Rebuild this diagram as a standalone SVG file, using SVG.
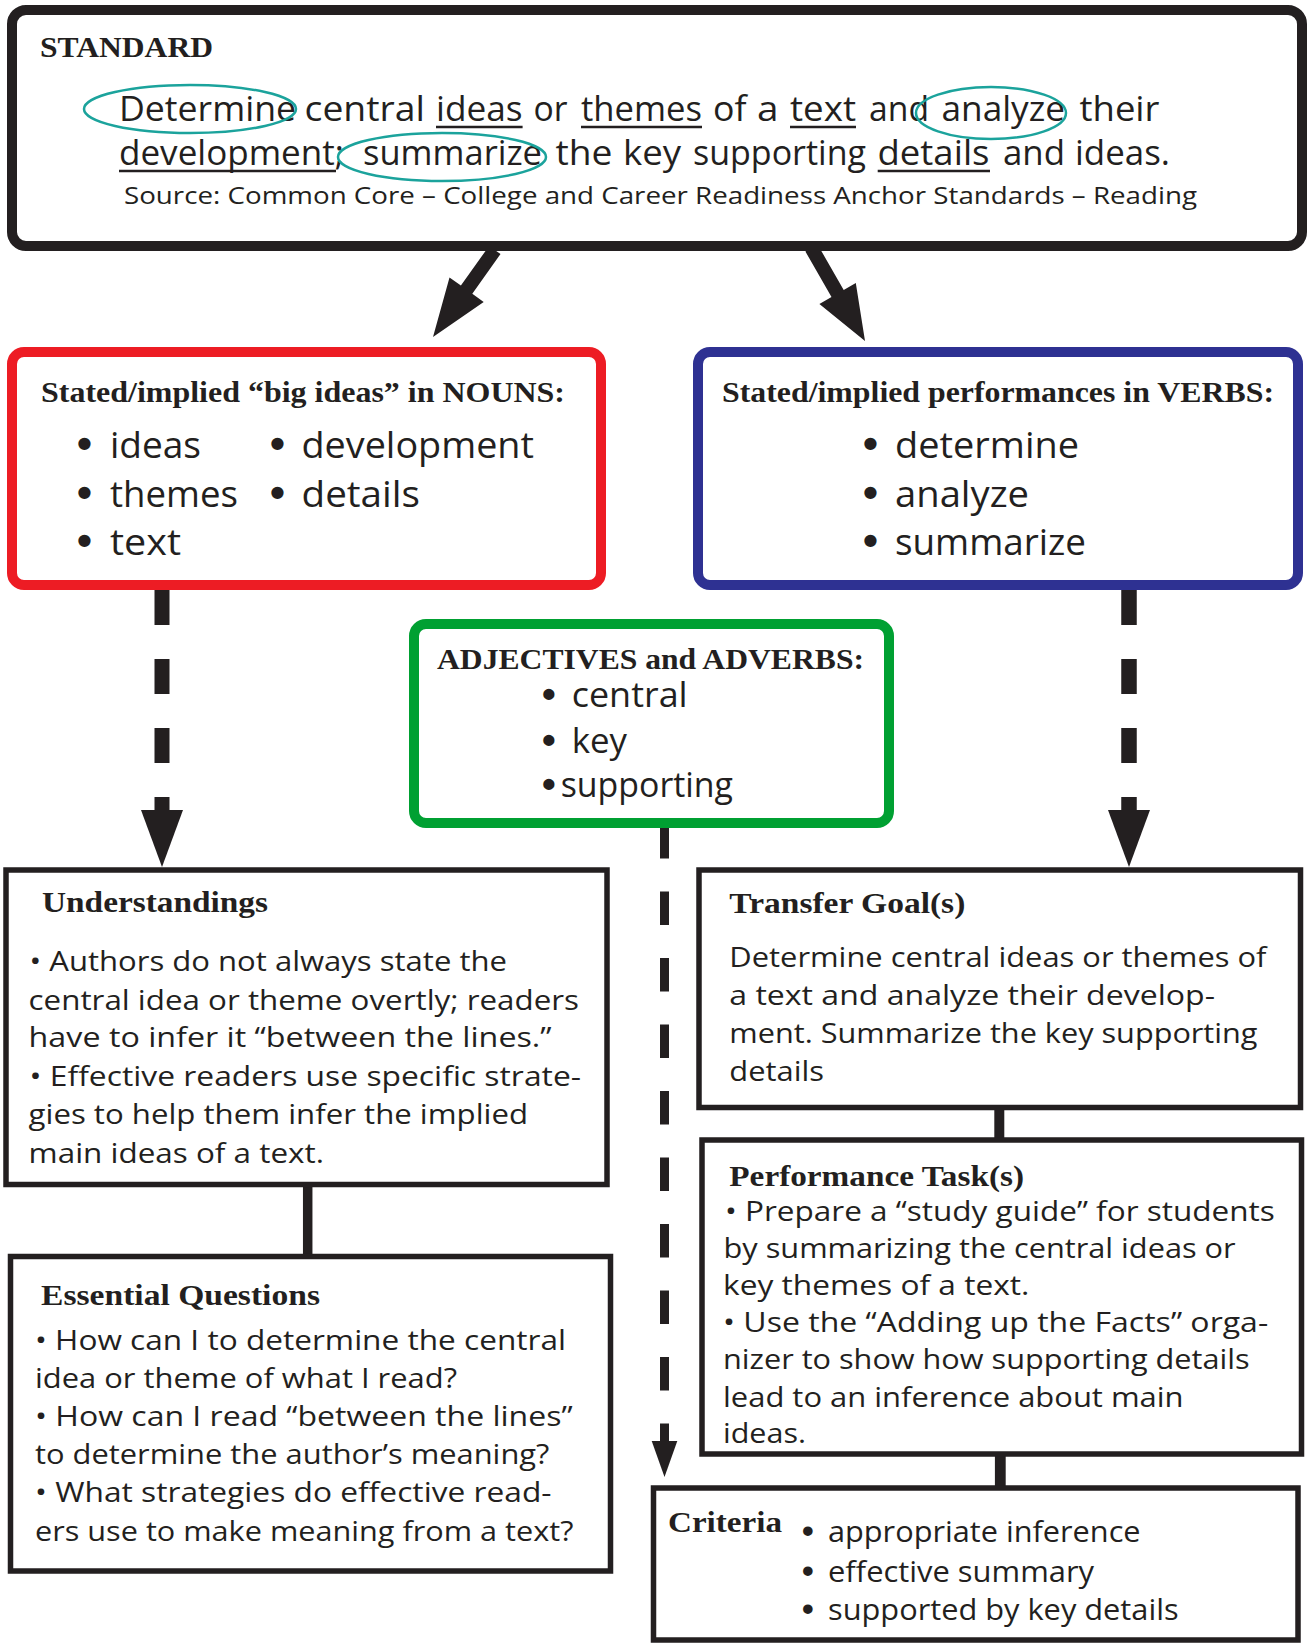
<svg xmlns="http://www.w3.org/2000/svg" width="1307" height="1649" viewBox="0 0 1307 1649">
<style>
.box{fill:#fff;stroke:#231f20;stroke-width:5.5}
.rbox{fill:#fff;stroke-width:10}
.hd{font-family:"Liberation Serif","Times New Roman",serif;font-weight:bold;fill:#231f20;font-size:30px}
.tx{font-family:"Open Sans","Noto Sans",sans-serif;fill:#231f20}
.bl{font-family:"Liberation Sans",Arial,sans-serif;font-weight:bold;font-size:1.15em}
.ul{stroke:#231f20;stroke-width:2.5}
.ov{fill:none;stroke:#1ba39c;stroke-width:2.5}
.dash{fill:none;stroke:#231f20}
.solid{fill:none;stroke:#231f20}
.head{fill:#231f20}
</style>
<rect width="1307" height="1649" fill="#fff"/>
<g id="connectors">
  <polygon class="head" points="489.1,245.9 500.5,254.1 472.3,293.8 483.7,301.9 433,337 449.5,277.5 460.9,285.6"/>
  <polygon class="head" points="805.4,251.5 817.6,244.5 843.7,289.9 855.8,282.9 865,341 819.4,303.9 831.5,296.9"/>
  <line class="dash" x1="162" y1="590" x2="162" y2="810" stroke-width="15" stroke-dasharray="35 34"/>
  <polygon class="head" points="141,810 183,810 162,867"/>
  <line class="dash" x1="1129" y1="590" x2="1129" y2="810" stroke-width="15.5" stroke-dasharray="35 34"/>
  <polygon class="head" points="1108,810 1150,810 1129,867"/>
  <line class="dash" x1="664.5" y1="825" x2="664.5" y2="1441" stroke-width="9" stroke-dasharray="33.5 33"/>
  <polygon class="head" points="651.7,1441 677.3,1441 664.5,1477"/>
  <line class="solid" x1="307.7" y1="1184" x2="307.7" y2="1257" stroke-width="9.5"/>
  <line class="solid" x1="999.3" y1="1107" x2="999.3" y2="1140" stroke-width="10"/>
  <line class="solid" x1="1000.3" y1="1454" x2="1000.3" y2="1488" stroke-width="10.8"/>
</g>
<g id="standard">
  <rect x="12" y="10" width="1290" height="236" rx="14" fill="#fff" stroke="#231f20" stroke-width="10"/>
  <text class="hd" x="40" y="57" textLength="173" lengthAdjust="spacingAndGlyphs">STANDARD</text>
  <text class="tx" y="121" font-size="35"><tspan x="119" textLength="177" lengthAdjust="spacingAndGlyphs">Determine</tspan> <tspan x="304.5" textLength="120.5" lengthAdjust="spacingAndGlyphs">central</tspan> <tspan x="436" textLength="86.6" lengthAdjust="spacingAndGlyphs">ideas</tspan> <tspan x="533.5" textLength="34" lengthAdjust="spacingAndGlyphs">or</tspan> <tspan x="581" textLength="121" lengthAdjust="spacingAndGlyphs">themes</tspan> <tspan x="713" textLength="33.5" lengthAdjust="spacingAndGlyphs">of</tspan> <tspan x="757" textLength="21.5" lengthAdjust="spacingAndGlyphs">a</tspan> <tspan x="790" textLength="66" lengthAdjust="spacingAndGlyphs">text</tspan> <tspan x="869" textLength="60" lengthAdjust="spacingAndGlyphs">and</tspan> <tspan x="941.5" textLength="123.5" lengthAdjust="spacingAndGlyphs">analyze</tspan> <tspan x="1079.5" textLength="80" lengthAdjust="spacingAndGlyphs">their</tspan></text>
  <text class="tx" y="165" font-size="35"><tspan x="119" textLength="225" lengthAdjust="spacingAndGlyphs">development;</tspan> <tspan x="363" textLength="179" lengthAdjust="spacingAndGlyphs">summarize</tspan> <tspan x="555.5" textLength="57" lengthAdjust="spacingAndGlyphs">the</tspan> <tspan x="623" textLength="58" lengthAdjust="spacingAndGlyphs">key</tspan> <tspan x="693" textLength="173" lengthAdjust="spacingAndGlyphs">supporting</tspan> <tspan x="877.5" textLength="112" lengthAdjust="spacingAndGlyphs">details</tspan> <tspan x="1003" textLength="62" lengthAdjust="spacingAndGlyphs">and</tspan> <tspan x="1075" textLength="95" lengthAdjust="spacingAndGlyphs">ideas.</tspan></text>
  <line class="ul" x1="436" y1="127" x2="522.6" y2="127"/>
  <line class="ul" x1="581" y1="127" x2="702" y2="127"/>
  <line class="ul" x1="790" y1="127" x2="856" y2="127"/>
  <line class="ul" x1="119" y1="171" x2="336" y2="171"/>
  <line class="ul" x1="877.7" y1="171" x2="990" y2="171"/>
  <ellipse class="ov" cx="190" cy="109" rx="106" ry="24"/>
  <ellipse class="ov" cx="991" cy="113" rx="75" ry="26"/>
  <ellipse class="ov" cx="442" cy="157" rx="104" ry="24"/>
  <text class="tx" x="124" y="204" font-size="23" textLength="1073" lengthAdjust="spacingAndGlyphs">Source: Common Core – College and Career Readiness Anchor Standards – Reading</text>
</g>
<g id="nouns">
  <rect class="rbox" x="12" y="352" width="589" height="233" rx="12" stroke="#ed1c24"/>
  <text class="hd" x="41" y="402" textLength="524" lengthAdjust="spacingAndGlyphs">Stated/implied “big ideas” in NOUNS:</text>
  <g class="tx" font-size="37">
    <text y="458"><tspan class="bl" x="77">• </tspan><tspan x="110" textLength="91" lengthAdjust="spacingAndGlyphs">ideas</tspan></text>
    <text y="458"><tspan class="bl" x="270">• </tspan><tspan x="301.5" textLength="232.5" lengthAdjust="spacingAndGlyphs">development</tspan></text>
    <text y="507"><tspan class="bl" x="77">• </tspan><tspan x="110" textLength="128" lengthAdjust="spacingAndGlyphs">themes</tspan></text>
    <text y="507"><tspan class="bl" x="270">• </tspan><tspan x="301.5" textLength="118.5" lengthAdjust="spacingAndGlyphs">details</tspan></text>
    <text y="555"><tspan class="bl" x="77">• </tspan><tspan x="110" textLength="71" lengthAdjust="spacingAndGlyphs">text</tspan></text>
  </g>
</g>
<g id="verbs">
  <rect class="rbox" x="698" y="352" width="600" height="233" rx="12" stroke="#2e3192"/>
  <text class="hd" x="722" y="402" textLength="552" lengthAdjust="spacingAndGlyphs">Stated/implied performances in VERBS:</text>
  <g class="tx" font-size="37">
    <text y="458"><tspan class="bl" x="863">• </tspan><tspan x="895" textLength="184" lengthAdjust="spacingAndGlyphs">determine</tspan></text>
    <text y="507"><tspan class="bl" x="863">• </tspan><tspan x="895" textLength="134" lengthAdjust="spacingAndGlyphs">analyze</tspan></text>
    <text y="555"><tspan class="bl" x="863">• </tspan><tspan x="895" textLength="191" lengthAdjust="spacingAndGlyphs">summarize</tspan></text>
  </g>
</g>
<g id="adjectives">
  <rect class="rbox" x="414" y="624" width="475" height="199" rx="12" stroke="#00a032"/>
  <text class="hd" x="437" y="669" textLength="427" lengthAdjust="spacingAndGlyphs">ADJECTIVES and ADVERBS:</text>
  <g class="tx" font-size="34">
    <text y="707"><tspan class="bl" x="542">• </tspan><tspan x="571.7" textLength="116" lengthAdjust="spacingAndGlyphs">central</tspan></text>
    <text y="753"><tspan class="bl" x="542">• </tspan><tspan x="571.7" textLength="55.3" lengthAdjust="spacingAndGlyphs">key</tspan></text>
    <text y="797"><tspan class="bl" x="542">•</tspan><tspan x="560.7" textLength="172.3" lengthAdjust="spacingAndGlyphs">supporting</tspan></text>
  </g>
</g>
<g id="understandings">
  <rect class="box" x="6" y="870" width="601" height="314.5"/>
  <text class="hd" x="42" y="912" textLength="226" lengthAdjust="spacingAndGlyphs">Understandings</text>
  <g class="tx" font-size="27">
    <text x="29.5" y="971" textLength="477.5" lengthAdjust="spacingAndGlyphs">• Authors do not always state the</text>
    <text x="28.6" y="1009.5" textLength="550.4" lengthAdjust="spacingAndGlyphs">central idea or theme overtly; readers</text>
    <text x="28.6" y="1047" textLength="523" lengthAdjust="spacingAndGlyphs">have to infer it “between the lines.”</text>
    <text x="29.5" y="1085.5" textLength="551.5" lengthAdjust="spacingAndGlyphs">• Effective readers use specific strate-</text>
    <text x="28.6" y="1123.5" textLength="499.4" lengthAdjust="spacingAndGlyphs">gies to help them infer the implied</text>
    <text x="28.6" y="1162.5" textLength="295.4" lengthAdjust="spacingAndGlyphs">main ideas of a text.</text>
  </g>
</g>
<g id="essential-questions">
  <rect class="box" x="10.5" y="1256.5" width="600" height="314.5"/>
  <text class="hd" x="41" y="1305" textLength="279" lengthAdjust="spacingAndGlyphs">Essential Questions</text>
  <g class="tx" font-size="27">
    <text x="35" y="1349.5" textLength="531" lengthAdjust="spacingAndGlyphs">• How can I to determine the central</text>
    <text x="35" y="1388" textLength="422" lengthAdjust="spacingAndGlyphs">idea or theme of what I read?</text>
    <text x="35" y="1425.5" textLength="537.6" lengthAdjust="spacingAndGlyphs">• How can I read “between the lines”</text>
    <text x="35" y="1463.5" textLength="514.4" lengthAdjust="spacingAndGlyphs">to determine the author’s meaning?</text>
    <text x="35" y="1502" textLength="516.5" lengthAdjust="spacingAndGlyphs">• What strategies do effective read-</text>
    <text x="35" y="1541" textLength="538.4" lengthAdjust="spacingAndGlyphs">ers use to make meaning from a text?</text>
  </g>
</g>
<g id="transfer-goals">
  <rect class="box" x="699" y="870" width="601.5" height="237.5"/>
  <text class="hd" x="729.3" y="913" textLength="236" lengthAdjust="spacingAndGlyphs">Transfer Goal(s)</text>
  <g class="tx" font-size="28">
    <text x="729.3" y="966.5" textLength="537.2" lengthAdjust="spacingAndGlyphs">Determine central ideas or themes of</text>
    <text x="729.3" y="1004.5" textLength="485.7" lengthAdjust="spacingAndGlyphs">a text and analyze their develop-</text>
    <text x="729.3" y="1043" textLength="528.2" lengthAdjust="spacingAndGlyphs">ment. Summarize the key supporting</text>
    <text x="729.3" y="1080.5" textLength="94.7" lengthAdjust="spacingAndGlyphs">details</text>
  </g>
</g>
<g id="performance-tasks">
  <rect class="box" x="702" y="1140" width="599.5" height="314"/>
  <text class="hd" x="729.3" y="1186" textLength="294.7" lengthAdjust="spacingAndGlyphs">Performance Task(s)</text>
  <g class="tx" font-size="27">
    <text x="725" y="1221" textLength="549.8" lengthAdjust="spacingAndGlyphs">• Prepare a “study guide” for students</text>
    <text x="723.5" y="1257.5" textLength="512.1" lengthAdjust="spacingAndGlyphs">by summarizing the central ideas or</text>
    <text x="723" y="1295" textLength="306.4" lengthAdjust="spacingAndGlyphs">key themes of a text.</text>
    <text x="723" y="1331.5" textLength="545.2" lengthAdjust="spacingAndGlyphs">• Use the “Adding up the Facts” orga-</text>
    <text x="723" y="1368.5" textLength="526.6" lengthAdjust="spacingAndGlyphs">nizer to show how supporting details</text>
    <text x="723" y="1406.5" textLength="460.6" lengthAdjust="spacingAndGlyphs">lead to an inference about main</text>
    <text x="723" y="1443" textLength="83" lengthAdjust="spacingAndGlyphs">ideas.</text>
  </g>
</g>
<g id="criteria">
  <rect class="box" x="653.5" y="1488" width="644.5" height="152"/>
  <text class="hd" x="668" y="1531.5" textLength="114" lengthAdjust="spacingAndGlyphs">Criteria</text>
  <g class="tx" font-size="29">
    <text y="1542"><tspan class="bl" x="802">• </tspan><tspan x="828" textLength="312.6" lengthAdjust="spacingAndGlyphs">appropriate inference</tspan></text>
    <text y="1581.5"><tspan class="bl" x="802">• </tspan><tspan x="828" textLength="266" lengthAdjust="spacingAndGlyphs">effective summary</tspan></text>
    <text y="1619.5"><tspan class="bl" x="802">• </tspan><tspan x="828" textLength="350.6" lengthAdjust="spacingAndGlyphs">supported by key details</tspan></text>
  </g>
</g>
</svg>
